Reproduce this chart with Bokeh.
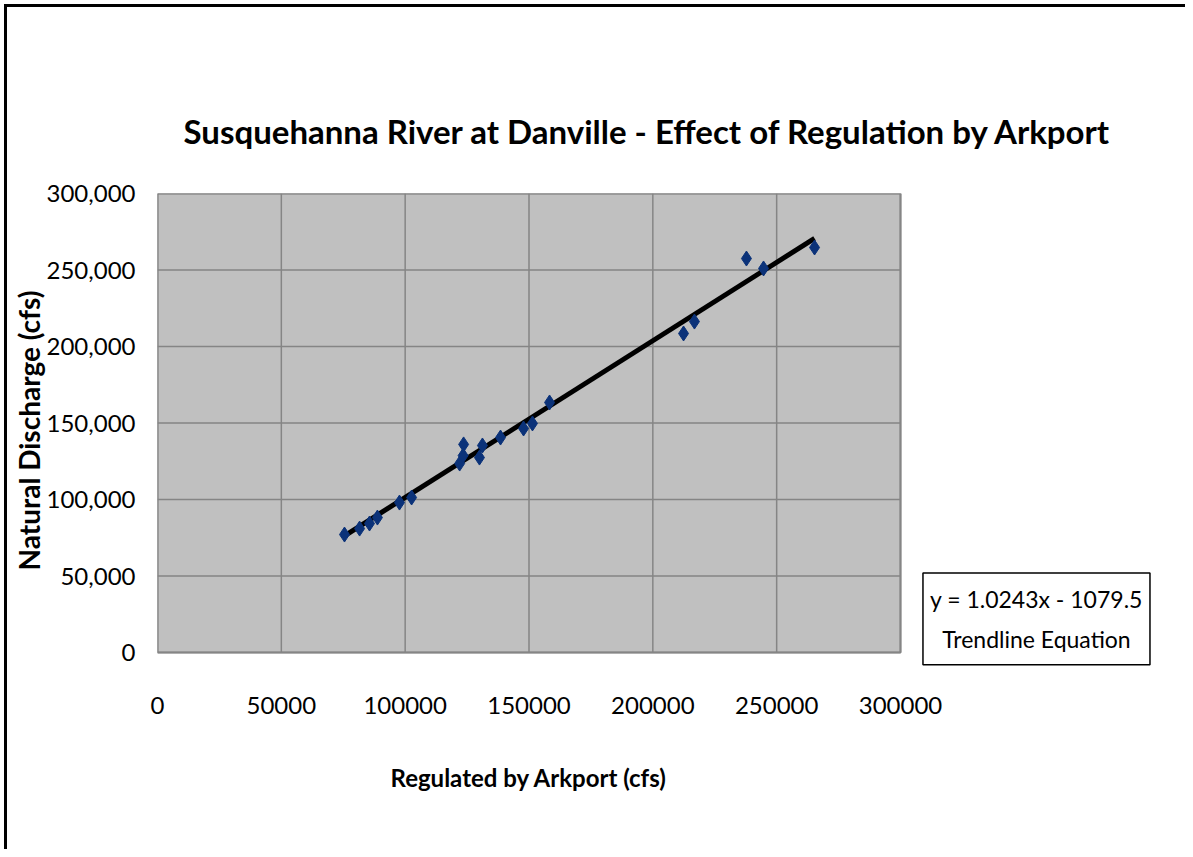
from bokeh.plotting import figure
from bokeh.models import Range1d, NumeralTickFormatter, BasicTickFormatter, FixedTicker, ColumnDataSource, Label, Title
from bokeh.embed import file_html
from bokeh.resources import INLINE

# Data
regulated = [75500, 81600, 85600, 88800, 97700, 102600, 122000, 123600, 123400, 130000,
             131200, 138500, 147800, 151400, 158300, 212400, 216800, 237800, 244700, 265300]
natural = [77100, 81000, 84300, 88200, 98000, 101300, 123500, 136000, 128700, 127400,
           135300, 140500, 146400, 149700, 163400, 208500, 216300, 257500, 251000, 264700]
slope = 1.0243
intercept = -1079.5
x_ticks = [0, 50000, 100000, 150000, 200000, 250000, 300000]
y_ticks = [0, 50000, 100000, 150000, 200000, 250000, 300000]
equation_lines = ["y = 1.0243x - 1079.5", "Trendline Equation"]

FONT = "Lato"
X_MAX = 300000
Y_MAX = 300000

# The frame is widened to the right and slightly downward so that the equation box
# (which sits outside the grey plot area) is drawn inside the drawable region.
p = figure(frame_width=1000, frame_height=474,
           x_range=Range1d(0, 1000 * X_MAX / 743), y_range=Range1d(-15 * Y_MAX / 459, Y_MAX),
           min_border_left=150, min_border_top=186, min_border_right=28, min_border_bottom=182,
           output_backend="svg", toolbar_location=None)
p.styles = {"margin-left": "4px", "margin-top": "4px",
            "border-left": "3px solid black", "border-top": "3px solid black"}

p.title.text = "Susquehanna River at Danville - Effect of Regulation by Arkport"
p.title.text_font = FONT
p.title.text_font_size = "33px"
p.title.text_font_style = "bold"
p.title.text_color = "black"
p.title.align = "left"
p.title.offset = 26
p.title.standoff = 86

p.background_fill_color = "white"
p.border_fill_color = "white"
p.outline_line_color = None
p.xgrid.grid_line_color = None
p.ygrid.grid_line_color = None

for ax in (p.xaxis[0], p.yaxis[0]):
    ax.axis_line_color = None
    ax.major_tick_line_color = None
    ax.minor_tick_line_color = None
    ax.major_tick_in = 0
    ax.major_tick_out = 0
    ax.minor_tick_in = 0
    ax.minor_tick_out = 0
    ax.major_label_text_font = FONT
    ax.major_label_text_font_size = "24px"
    ax.major_label_text_color = "black"
    ax.axis_label_text_font = FONT
    ax.axis_label_text_font_style = "bold"
    ax.axis_label_text_color = "black"

p.xaxis.bounds = (0, X_MAX)
p.yaxis.bounds = (0, Y_MAX)
p.xaxis.ticker = FixedTicker(ticks=x_ticks)
p.yaxis.ticker = FixedTicker(ticks=y_ticks)
p.xaxis.formatter = BasicTickFormatter(use_scientific=False)
p.yaxis.formatter = NumeralTickFormatter(format="0,0")
p.xaxis.major_label_standoff = 29
p.yaxis.major_label_standoff = 22
p.yaxis.axis_label = "Natural Discharge (cfs)"
p.yaxis.axis_label_text_font_size = "28px"
p.yaxis.axis_label_standoff = -2

# x-axis title, positioned under the grey plot area (not the widened frame)
p.add_layout(Title(text="Regulated by Arkport (cfs)", align="left", offset=233, standoff=88,
                   text_font=FONT, text_font_size="24px", text_font_style="bold",
                   text_color="black"), "below")

# Grey plot area with its border
p.quad(left=[0], right=[X_MAX], bottom=[0], top=[Y_MAX],
       fill_color="#C0C0C0", line_color="#808080", line_width=2)

# Grid lines at the tick values, limited to the plot area
p.segment(x0=x_ticks, y0=[0] * len(x_ticks), x1=x_ticks, y1=[Y_MAX] * len(x_ticks),
          line_color="#858585", line_width=1.5)
p.segment(x0=[0] * len(y_ticks), y0=y_ticks, x1=[X_MAX] * len(y_ticks), y1=y_ticks,
          line_color="#858585", line_width=1.5)

# Trendline across the data range
x0, x1 = min(regulated), max(regulated)
trend = ColumnDataSource(dict(x=[x0, x1], y=[slope * x0 + intercept, slope * x1 + intercept]))
p.line("x", "y", source=trend, line_color="black", line_width=5)

pts = ColumnDataSource(dict(x=regulated, y=natural))
p.scatter("x", "y", source=pts, marker="diamond", size=15, fill_color="#0B3279", line_color="#0B3279")

# Trendline equation box
p.add_layout(Label(x=354900, y=21900,
                   text="\n".join(equation_lines),
                   text_font=FONT, text_font_size="23px", text_color="black",
                   text_align="center", text_baseline="middle", text_line_height=1.42,
                   border_line_color="black", border_line_width=1.5,
                   background_fill_color="white",
                   padding=dict(left=7, right=7, top=12, bottom=12)))

open("out.html", "w").write(file_html(p, INLINE))
